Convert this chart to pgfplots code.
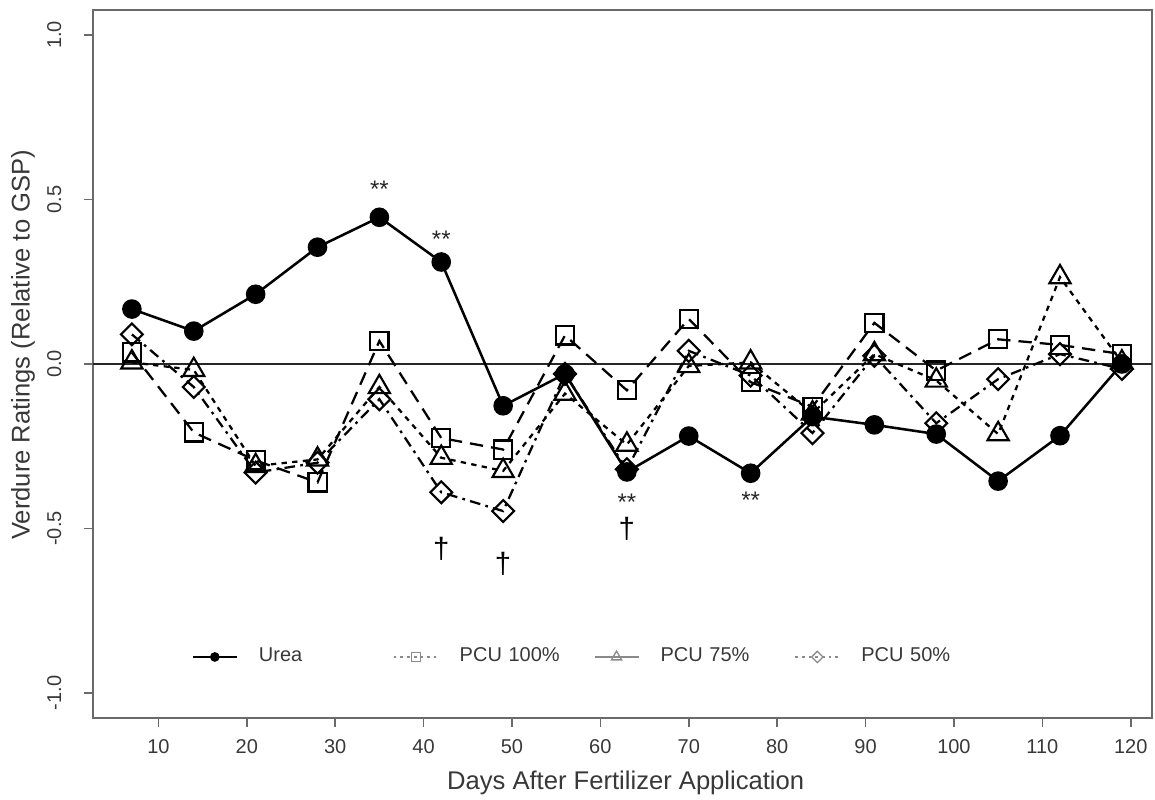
\documentclass[border=0pt]{standalone}
\usepackage{fontspec}
\setmainfont{Liberation Sans}
\usepackage{pgfplots}
\pgfplotsset{compat=1.18}
\definecolor{axgray}{HTML}{6A6A6A}
\definecolor{txtgray}{HTML}{383838}
\definecolor{leggray}{HTML}{8A8A8A}

\begin{document}
\begin{tikzpicture}
\begin{axis}[
  at={(0pt,0pt)}, anchor=south west, scale only axis,
  width=397.1pt, height=265.5pt,
  xmin=2.6, xmax=122.4, ymin=-1.076, ymax=1.076,
  xtick={10,20,...,120}, ytick={-1,-0.5,0,0.5,1},
  yticklabels={-1.0,-0.5,0.0,0.5,1.0},
  axis line style={axgray, line width=0.8pt},
  tick style={axgray, line width=0.6pt},
  tick align=outside, major tick length=3.5pt,
  xtick pos=bottom, ytick pos=left,
  ticklabel style={font=\fontsize{7.5}{9}\selectfont, text=txtgray},
  /pgf/number format/assume math mode=true,
  yticklabel style={rotate=90, anchor=south},
  yticklabel shift=4.8pt,
  xticklabel shift=1pt,
  xlabel={Days After Fertilizer Application},
  ylabel={Verdure Ratings (Relative to GSP)},
  label style={font=\fontsize{9.6}{11}\selectfont, text=txtgray},
  xlabel style={at={(axis description cs:0.503,-0.0919)}, anchor=center},
  ylabel style={at={(axis description cs:-0.066,0.527)}, anchor=center},
  legend columns=4,
  legend style={at={(axis description cs:0.0935,0.0862)}, anchor=west,
    draw=none, fill=none, inner sep=0pt, outer sep=0pt,
    font=\fontsize{7.5}{9}\selectfont, text=txtgray,
    nodes={inner sep=0pt, text width=50.3pt, align=left}},
  legend image code/.code={\draw[mark repeat=2,mark phase=2] plot coordinates {(0pt,0pt) (8.25pt,0pt) (16.5pt,0pt)}; \path (24.5pt,0pt);},
  clip=true,
]
\addplot[forget plot, black!85, line width=0.75pt] coordinates {(2.6,0) (122.4,0)};

\addplot[black, line width=0.95pt, solid, mark=*, mark size=3.2pt,
  legend image post style={line width=0.6pt, mark size=1.5pt}]
  coordinates {(7,0.167) (14,0.10) (21,0.212) (28,0.355) (35,0.446) (42,0.31) (49,-0.127) (56,-0.03) (63,-0.328) (70,-0.219) (77,-0.332) (84,-0.16) (91,-0.185) (98,-0.213) (105,-0.356) (112,-0.218) (119,0.0)};
\addlegendentry{Urea}

\addplot[black, line width=0.85pt, dash pattern=on 5pt off 3pt, mark=square, mark size=3.4pt, mark options={solid, line width=0.8pt, fill=none},
  legend image post style={leggray, line width=0.5pt, dash pattern=on 1pt off 1.5pt, mark size=1.7pt, mark options={solid, leggray, line width=0.5pt}}]
  coordinates {(7,0.035) (14,-0.208) (21,-0.293) (28,-0.36) (35,0.07) (42,-0.225) (49,-0.26) (56,0.087) (63,-0.08) (70,0.137) (77,-0.055) (84,-0.13) (91,0.125) (98,-0.02) (105,0.075) (112,0.058) (119,0.03)};
\addlegendentry{PCU 100\%}

\addplot[black, line width=0.85pt, dash pattern=on 2pt off 2pt, mark=triangle, mark size=4.6pt, mark options={solid, line width=0.8pt, fill=none},
  legend image post style={leggray, line width=0.5pt, solid, mark size=2.2pt, mark options={solid, leggray, line width=0.5pt}}]
  coordinates {(7,0.005) (14,-0.018) (21,-0.31) (28,-0.29) (35,-0.07) (42,-0.285) (49,-0.325) (56,-0.09) (63,-0.245) (70,-0.006) (77,0.005) (84,-0.15) (91,0.03) (98,-0.05) (105,-0.213) (112,0.264) (119,0.005)};
\addlegendentry{PCU 75\%}

\addplot[black, line width=0.85pt, dash pattern=on 4pt off 2pt on 1pt off 2pt, mark=square, mark size=2.9pt, mark options={solid, rotate=45, line width=0.8pt, fill=none},
  legend image post style={leggray, line width=0.5pt, dash pattern=on 1pt off 1.5pt, mark size=1.5pt, mark options={solid, rotate=45, leggray, line width=0.5pt}}]
  coordinates {(7,0.09) (14,-0.07) (21,-0.33) (28,-0.30) (35,-0.107) (42,-0.39) (49,-0.447) (56,-0.03) (63,-0.32) (70,0.04) (77,-0.035) (84,-0.21) (91,0.025) (98,-0.18) (105,-0.046) (112,0.03) (119,-0.015)};
\addlegendentry{PCU 50\%}

\node[font=\fontsize{9}{10}\selectfont, text=black!85] at (axis cs:35,0.53) {**};
\node[font=\fontsize{9}{10}\selectfont, text=black!85] at (axis cs:42,0.38) {**};
\node[font=\fontsize{9}{10}\selectfont, text=black!85] at (axis cs:63,-0.42) {**};
\node[font=\fontsize{9}{10}\selectfont, text=black!85] at (axis cs:77,-0.415) {**};
\node[font=\fontsize{11}{12}\selectfont, text=black] at (axis cs:42,-0.563) {†};
\node[font=\fontsize{11}{12}\selectfont, text=black] at (axis cs:49,-0.607) {†};
\node[font=\fontsize{11}{12}\selectfont, text=black] at (axis cs:63,-0.50) {†};
\end{axis}
\pgfresetboundingbox
\path[use as bounding box] (-34.875pt,-30.75pt) rectangle (398.25pt,269.25pt);
\end{tikzpicture}
\end{document}
